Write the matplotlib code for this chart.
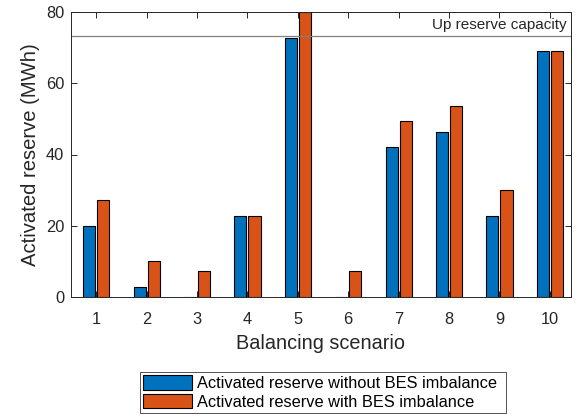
import matplotlib
matplotlib.use("Agg")
import matplotlib.pyplot as plt
import numpy as np

plt.rcParams['font.family'] = ['Liberation Sans', 'DejaVu Sans']

scenarios = [1, 2, 3, 4, 5, 6, 7, 8, 9, 10]
without_bes = [19.9, 2.8, 0.0, 22.6, 72.7, 0.0, 42.0, 46.2, 22.6, 69.0]
with_bes = [27.2, 10.1, 7.2, 22.6, 80.0, 7.2, 49.3, 53.6, 30.0, 69.0]
up_reserve_capacity = 73.2
labels = ["Activated reserve without BES imbalance", "Activated reserve with BES imbalance"]

blue = (0.0, 0.447, 0.741)
orange = (0.85, 0.325, 0.098)
axcol = (0.15, 0.15, 0.15)

fig = plt.figure(figsize=(5.79, 4.17), dpi=100)
ax = fig.add_axes([71/579, 1-297/417, (571-71)/579, (297-12)/417])

x = np.array(scenarios)
w = 0.24
b1 = ax.bar(x - 0.14, without_bes, w, color=blue, edgecolor='black', linewidth=0.8, label=labels[0])
b2 = ax.bar(x + 0.14, with_bes, w, color=orange, edgecolor='black', linewidth=0.8, label=labels[1])

ax.axhline(up_reserve_capacity, color=(0.5, 0.5, 0.5), linewidth=0.9)
ax.text(10.34, up_reserve_capacity + 1.2, "Up reserve capacity", ha='right', va='bottom',
        fontsize=11, color=axcol)

ax.set_xlim(0.5, 10.42)
ax.set_ylim(0, 80)
ax.set_xticks(scenarios)
ax.set_yticks([0, 20, 40, 60, 80])
ax.tick_params(direction='in', top=True, right=True, labelsize=11.8, colors=axcol, length=4, width=0.7)
ax.tick_params(axis='x', pad=11)
ax.tick_params(axis='y', pad=5)
for s in ax.spines.values():
    s.set_color(axcol)
    s.set_linewidth(0.7)
ax.set_xlabel("Balancing scenario", fontsize=14.3, color=axcol, labelpad=5)
ax.set_ylabel("Activated reserve (MWh)", fontsize=14.6, color=axcol, labelpad=4)

leg = fig.legend(handles=[b1, b2], labels=labels, loc='lower left',
                 bbox_to_anchor=(140/579, 1-413/417, (506-140)/579, (413-367)/417),
                 mode='expand', fontsize=11.8, frameon=True, fancybox=False,
                 edgecolor=axcol, handlelength=3.0, handleheight=1.0, handletextpad=0.25,
                 borderpad=0.2, labelspacing=0.15, borderaxespad=0)
leg.get_frame().set_linewidth(0.7)

fig.savefig("out.png", dpi=100)
